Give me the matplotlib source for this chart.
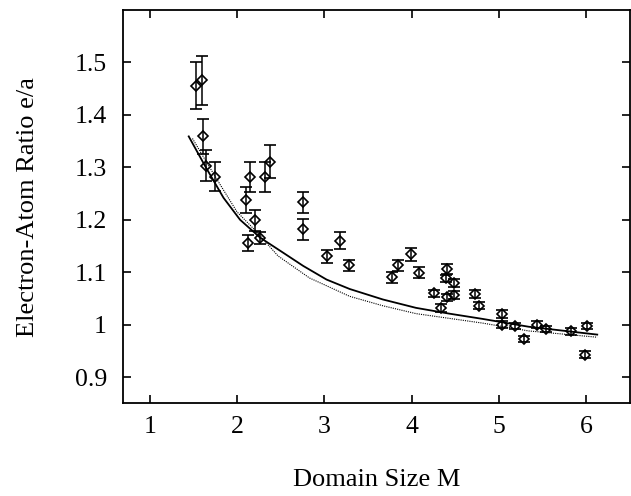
import matplotlib
matplotlib.use("Agg")
import matplotlib.pyplot as plt
import numpy as np

# measured points (domain size M, e/a, error)
m_vals = [1.533, 1.594, 1.613, 1.647, 1.75, 2.107, 2.146, 2.207, 2.127, 2.267,
          2.32, 2.38, 2.75, 2.75, 3.03, 3.185, 3.28, 3.78, 3.847, 3.987,
          4.08, 4.25, 4.34, 4.40, 4.395, 4.40, 4.49, 4.49, 4.726, 4.775,
          5.034, 5.034, 5.186, 5.29, 5.43, 5.536, 5.82, 6.01, 5.99]
ea_vals = [1.456, 1.466, 1.359, 1.303, 1.282, 1.238, 1.282, 1.199, 1.156, 1.165,
           1.282, 1.311, 1.233, 1.182, 1.130, 1.160, 1.113, 1.090, 1.113, 1.134,
           1.099, 1.060, 1.032, 1.106, 1.088, 1.052, 1.079, 1.057, 1.059, 1.036,
           1.020, 1.000, 0.998, 0.973, 1.000, 0.992, 0.987, 0.997, 0.943]
ea_err = [0.045, 0.047, 0.033, 0.030, 0.028, 0.025, 0.029, 0.020, 0.015, 0.012,
          0.029, 0.031, 0.020, 0.020, 0.013, 0.016, 0.010, 0.010, 0.010, 0.012,
          0.010, 0.007, 0.007, 0.010, 0.007, 0.007, 0.008, 0.008, 0.008, 0.007,
          0.007, 0.006, 0.006, 0.006, 0.006, 0.006, 0.006, 0.006, 0.006]

# fitted curves
fit_m = [1.447, 1.636, 1.845, 2.035, 2.264, 2.53, 2.758, 3.025, 3.29, 3.67,
         4.05, 4.43, 4.81, 5.34, 6.125]
fit_ea = [1.359, 1.302, 1.242, 1.200, 1.166, 1.137, 1.112, 1.086, 1.068, 1.048,
          1.032, 1.021, 1.011, 0.996, 0.981]
fit2_m = [1.49, 1.65, 1.807, 2.0, 2.207, 2.47, 2.83, 3.29, 3.67, 4.05,
          4.43, 4.81, 5.34, 6.125]
fit2_ea = [1.355, 1.31, 1.267, 1.215, 1.18, 1.131, 1.089, 1.054, 1.036, 1.021,
           1.012, 1.003, 0.988, 0.976]

x_ticks = [1, 2, 3, 4, 5, 6]
y_ticks = [0.9, 1.0, 1.1, 1.2, 1.3, 1.4, 1.5]
y_tick_labels = ["0.9", "1", "1.1", "1.2", "1.3", "1.4", "1.5"]

plt.rcParams["font.family"] = ["Liberation Serif", "DejaVu Serif"]

fig = plt.figure(figsize=(6.31, 4.96), dpi=100)
ax = fig.add_axes([0.1957, 0.1869, 0.8027, 0.7929])

ax.plot(fit_m, fit_ea, color="black", linewidth=1.3, zorder=2)
ax.plot(fit2_m, fit2_ea, color="black", linewidth=0.8, linestyle=(0, (1, 1)), zorder=2)

ax.errorbar(m_vals, ea_vals, yerr=ea_err, fmt="D", markersize=5.5,
            markerfacecolor="none", markeredgecolor="black", markeredgewidth=1.2,
            ecolor="black", elinewidth=1.1, capsize=4, capthick=1.1, zorder=3)

ax.set_xlim(0.7, 6.5)
ax.set_ylim(0.85, 1.60)
ax.set_xticks(x_ticks)
ax.set_yticks(y_ticks)
ax.set_yticklabels(y_tick_labels)
ax.tick_params(direction="in", top=True, right=True, length=6, width=1.2,
               labelsize=18.5)
ax.tick_params(axis="x", pad=9.5)
ax.tick_params(axis="y", pad=12)
for spine in ax.spines.values():
    spine.set_linewidth(1.3)

ax.set_xlabel("Domain Size M", fontsize=19)
ax.set_ylabel("Electron-Atom Ratio e/a", fontsize=19)
ax.xaxis.set_label_coords(0.5, -0.167)
ax.yaxis.set_label_coords(-0.167, 0.5)

fig.savefig("out.png", dpi=100)
